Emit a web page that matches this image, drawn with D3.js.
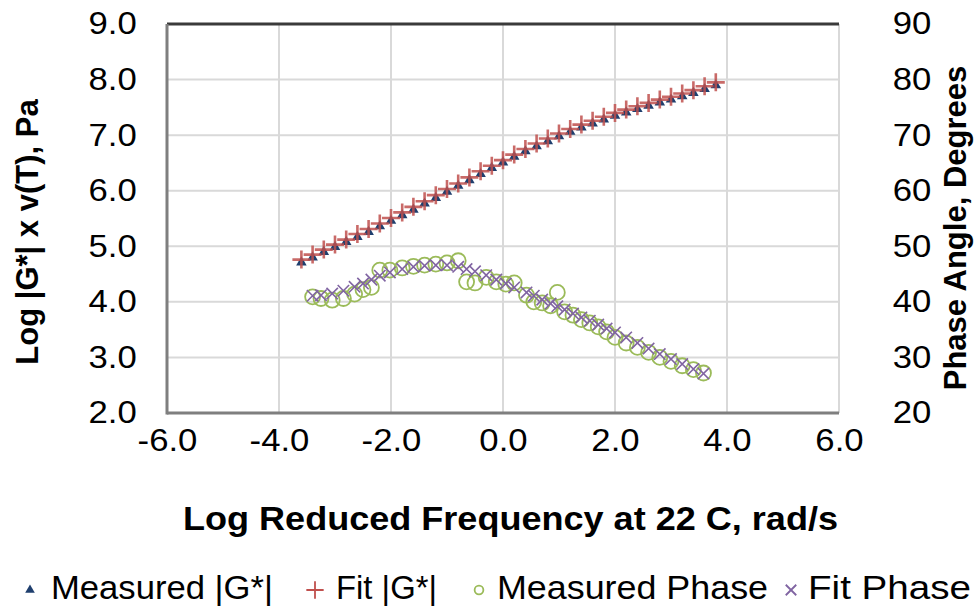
<!DOCTYPE html>
<html>
<head>
<meta charset="utf-8">
<script src="https://cdn.jsdelivr.net/npm/d3@7/dist/d3.min.js"></script>
<style>
  html, body { margin: 0; padding: 0; background: #fff; }
  svg { display: block; font-family: "Liberation Sans", Arial, sans-serif; }
</style>
</head>
<body>
<svg id="chart" width="977" height="610"></svg>
<script>
// Reduced frequency (log rad/s) for the modulus points
const modFreq = [-3.6,-3.4,-3.2,-3.0,-2.8,-2.6,-2.4,-2.2,-2.0,-1.8,-1.6,-1.4,-1.2,-1.0,-0.8,-0.6,-0.4,-0.2,0.0,0.2,0.4,0.6,0.8,1.0,1.2,1.4,1.6,1.8,2.0,2.2,2.4,2.6,2.8,3.0,3.2,3.4,3.6,3.8];
// Measured log |G*| x v(T), Pa
const measuredMod = [4.71,4.80,4.90,4.99,5.08,5.17,5.26,5.36,5.46,5.56,5.66,5.77,5.87,5.98,6.09,6.19,6.30,6.41,6.51,6.61,6.71,6.80,6.89,6.98,7.06,7.14,7.21,7.28,7.35,7.41,7.47,7.53,7.59,7.64,7.70,7.76,7.83,7.90];
// Fitted log |G*| x v(T), Pa
const fitMod = [4.76,4.85,4.94,5.03,5.12,5.22,5.31,5.41,5.51,5.61,5.71,5.81,5.92,6.03,6.13,6.24,6.35,6.45,6.55,6.65,6.75,6.85,6.94,7.03,7.11,7.19,7.26,7.33,7.40,7.46,7.52,7.58,7.64,7.69,7.75,7.81,7.88,7.95];

// Reduced frequency (log rad/s) for the phase points
const phaseFreq = [-3.40,-3.25,-3.05,-2.85,-2.65,-2.50,-2.35,-2.20,-2.02,-1.80,-1.60,-1.40,-1.20,-1.00,-0.80,-0.65,-0.50,-0.30,-0.12,0.05,0.20,0.42,0.55,0.70,0.85,0.97,1.10,1.25,1.40,1.55,1.70,1.85,2.00,2.20,2.40,2.60,2.80,3.00,3.20,3.40,3.58];
// Measured phase angle, degrees
const measuredPhase = [40.9,40.6,40.3,40.6,41.4,42.2,42.6,45.7,45.7,46.1,46.4,46.6,46.8,47.0,47.4,43.6,43.4,44.4,43.6,43.2,43.4,41.2,40.0,39.8,39.3,41.7,38.2,37.6,36.8,36.2,35.5,34.6,33.6,32.6,31.8,30.9,30.0,29.3,28.5,27.8,27.2];
// Fitted phase angle, degrees
const fitPhase = [41.1,41.2,41.5,42.0,42.7,43.3,44.0,44.7,45.3,45.9,46.3,46.5,46.6,46.6,46.3,45.9,45.5,44.8,44.0,43.3,42.6,41.7,41.1,40.4,39.7,39.2,38.6,37.9,37.2,36.6,35.9,35.2,34.5,33.6,32.6,31.6,30.6,29.7,28.8,27.9,27.1];

// Axis ticks
const xTicks = [-6,-4,-2,0,2,4,6];
const yLeftTicks = [2,3,4,5,6,7,8,9];
const yRightTicks = [20,30,40,50,60,70,80,90];

// Legend entries
const legendLabels = ["Measured |G*|", "Fit |G*|", "Measured Phase", "Fit Phase"];

const C = {
  tri: "#1F3F6E",
  plus: "#C0504D",
  circ: "#9BBB59",
  cross: "#8064A2",
  grid: "#D9D9D9",
  axis: "#7F7F7F",
  top: "#3A3A3A",
  text: "#000"
};

const svg = d3.select("#chart");
const plot = { left: 167, right: 839, top: 24, bottom: 413 };

const x = d3.scaleLinear().domain([-6, 6]).range([plot.left, plot.right]);
const yL = d3.scaleLinear().domain([2, 9]).range([plot.bottom, plot.top]);
const yR = d3.scaleLinear().domain([20, 90]).range([plot.bottom, plot.top]);

// Custom marker shapes
const plusSym = { draw(ctx, size) { const h = Math.sqrt(size) / 2; ctx.moveTo(-h, 0); ctx.lineTo(h, 0); ctx.moveTo(0, -h); ctx.lineTo(0, h); } };
const crossSym = { draw(ctx, size) { const h = Math.sqrt(size) / 2; ctx.moveTo(-h, -h); ctx.lineTo(h, h); ctx.moveTo(-h, h); ctx.lineTo(h, -h); } };

// Gridlines
const grid = svg.append("g");
grid.selectAll("line.v").data(xTicks.filter(d => d > -6)).join("line")
  .attr("x1", d => x(d)).attr("x2", d => x(d))
  .attr("y1", plot.top).attr("y2", plot.bottom)
  .attr("stroke", C.grid).attr("stroke-width", 2);
grid.selectAll("line.h").data(yLeftTicks.filter(d => d > 2 && d < 9)).join("line")
  .attr("x1", plot.left).attr("x2", plot.right)
  .attr("y1", d => yL(d)).attr("y2", d => yL(d))
  .attr("stroke", C.grid).attr("stroke-width", 2);

// Axes built from d3 axis generators, then restyled
const fmt1 = d3.format(".1f");
const tickFont = 31;
const stretch = 1.12;

const gx = svg.append("g").attr("transform", `translate(0,${plot.bottom})`)
  .call(d3.axisBottom(x).tickValues(xTicks).tickFormat(d => fmt1(d).replace("−", "-")).tickSize(0).tickPadding(16));
const gyl = svg.append("g").attr("transform", `translate(${plot.left},0)`)
  .call(d3.axisLeft(yL).tickValues(yLeftTicks).tickFormat(fmt1).tickSize(0).tickPadding(27));
const gyr = svg.append("g").attr("transform", `translate(${plot.right},0)`)
  .call(d3.axisRight(yR).tickValues(yRightTicks).tickFormat(d3.format("d")).tickSize(0).tickPadding(48));

[gx, gyl, gyr].forEach(g => {
  g.select(".domain").remove();
  g.selectAll("text").attr("font-size", tickFont).attr("fill", C.text)
    .attr("font-family", "'Liberation Sans', Arial, sans-serif")
    .attr("transform", `scale(${stretch},1)`);
});
gx.selectAll("text").attr("dy", "0.71em");

// Plot frame
svg.append("line").attr("x1", plot.left).attr("x2", plot.right).attr("y1", plot.top).attr("y2", plot.top)
  .attr("stroke", C.top).attr("stroke-width", 3);
svg.append("line").attr("x1", plot.left).attr("x2", plot.left).attr("y1", plot.top).attr("y2", plot.bottom + 1.5)
  .attr("stroke", C.axis).attr("stroke-width", 3);
svg.append("line").attr("x1", plot.left).attr("x2", plot.right).attr("y1", plot.bottom).attr("y2", plot.bottom)
  .attr("stroke", C.axis).attr("stroke-width", 3);

// Series
const modData = modFreq.map((f, i) => ({ f, m: measuredMod[i], fit: fitMod[i] }));
const phData = phaseFreq.map((f, i) => ({ f, m: measuredPhase[i], fit: fitPhase[i] }));

svg.append("g").selectAll("path").data(modData).join("path")
  .attr("transform", d => `translate(${x(d.f)},${yL(d.m)})`)
  .attr("d", d3.symbol(d3.symbolTriangle, 48))
  .attr("fill", C.tri);

svg.append("g").selectAll("path").data(modData).join("path")
  .attr("transform", d => `translate(${x(d.f)},${yL(d.fit)})`)
  .attr("d", d3.symbol(plusSym, 324))
  .attr("fill", "none").attr("stroke", C.plus).attr("stroke-width", 2.6).attr("stroke-opacity", 0.85);

svg.append("g").selectAll("circle").data(phData).join("circle")
  .attr("cx", d => x(d.f)).attr("cy", d => yR(d.m)).attr("r", 7.5)
  .attr("fill", "none").attr("stroke", C.circ).attr("stroke-width", 1.8);

svg.append("g").selectAll("path").data(phData).join("path")
  .attr("transform", d => `translate(${x(d.f)},${yR(d.fit)})`)
  .attr("d", d3.symbol(crossSym, 130))
  .attr("fill", "none").attr("stroke", C.cross).attr("stroke-width", 1.6);

// Axis titles
svg.append("text").attr("x", 183).attr("y", 521).attr("dominant-baseline", "middle")
  .attr("font-size", 33).attr("font-weight", "bold")
  .attr("textLength", 655).attr("lengthAdjust", "spacingAndGlyphs")
  .text("Log Reduced Frequency at 22 C, rad/s");
svg.append("text").attr("transform", "translate(30,232) rotate(-90)").attr("text-anchor", "middle").attr("dominant-baseline", "middle")
  .attr("font-size", 31).attr("font-weight", "bold").text("Log |G*| x v(T), Pa");
svg.append("text").attr("transform", "translate(958,228) rotate(-90)").attr("text-anchor", "middle").attr("dominant-baseline", "middle")
  .attr("font-size", 31).attr("font-weight", "bold").text("Phase Angle, Degrees");

// Legend
const legY = 590;
const legItems = [
  { sym: d3.symbolTriangle, size: 40, fill: C.tri, stroke: "none", sx: 30, tx: 51, w: 222 },
  { sym: plusSym, size: 300, fill: "none", stroke: C.plus, sx: 315, tx: 336, w: 101 },
  { sym: d3.symbolCircle, size: 60, fill: "none", stroke: C.circ, sx: 479, tx: 497, w: 271 },
  { sym: crossSym, size: 110, fill: "none", stroke: C.cross, sx: 791, tx: 808, w: 163 }
];
const leg = svg.append("g");
legItems.forEach((it, i) => {
  leg.append("path").attr("transform", `translate(${it.sx},${legY})`)
    .attr("d", d3.symbol(it.sym, it.size))
    .attr("fill", it.fill).attr("stroke", it.stroke).attr("stroke-width", 1.8);
  leg.append("text").attr("x", it.tx).attr("y", legY).attr("dominant-baseline", "middle")
    .attr("font-size", 34).attr("textLength", it.w).attr("lengthAdjust", "spacingAndGlyphs")
    .text(legendLabels[i]);
});
</script>
</body>
</html>
